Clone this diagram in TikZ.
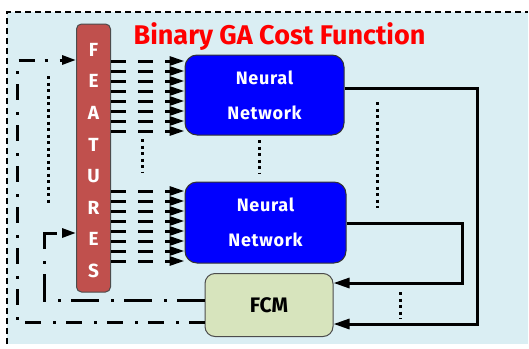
\documentclass[tikz,border=0pt]{standalone}
\usepackage{fontspec}
\setmainfont{Fira Sans}
\usetikzlibrary{arrows.meta}
\definecolor{bgblue}{HTML}{DAEEF3}
\definecolor{featred}{HTML}{C0504D}
\definecolor{nnblue}{HTML}{0000FF}
\definecolor{fcmgreen}{HTML}{D7E4BD}
\definecolor{titlered}{HTML}{FF0000}
\tikzset{
  featbar/.style={draw=black!70, line width=1pt, fill=featred, rounded corners=5pt, minimum width=34pt, minimum height=268pt, inner sep=0pt},
  nnbox/.style={draw=black!80, line width=1pt, fill=nnblue, rounded corners=12pt, text=white, font=\bfseries\fontsize{18}{35}\selectfont\addfontfeature{LetterSpace=4}, align=center, inner sep=0pt},
  fcmbox/.style={draw=black!70, line width=1pt, fill=fcmgreen, rounded corners=10pt, font=\bfseries\fontsize{21}{22}\selectfont, minimum width=128pt, minimum height=63pt, inner sep=0pt},
  featarrow/.style={line width=3pt, dash pattern=on 15pt off 12pt, -{Triangle[length=15pt,width=9pt]}},
  outarrow/.style={line width=3pt, -{Triangle[length=16pt,width=10pt]}},
  ellipsis/.style={line width=3pt, dash pattern=on 3pt off 3.5pt},
  fbinner/.style={line width=3pt, dash pattern=on 28pt off 10pt on 3pt off 12pt, -{Triangle[length=14pt,width=9pt]}},
  fbouter/.style={line width=3pt, dash pattern=on 16pt off 10pt on 3pt off 12pt, -{Triangle[length=14pt,width=9pt]}},
}
\begin{document}
\begin{tikzpicture}[x=1pt,y=-1pt]
\useasboundingbox (0,0) rectangle (529,348);
\fill[bgblue] (7,12) rectangle (528,344);
\draw[line width=1.5pt, dash pattern=on 6pt off 4pt] (7,344) -- (7,12) -- (528,12);

\node[font=\bfseries\fontsize{27}{29}\selectfont, text=titlered] (title) at (279.5,37) {Binary GA Cost Function};

\node[featbar] (feat) at (93.5,158) {};
\node[text=white, font=\bfseries\fontsize{19}{31.6}\selectfont, align=center, inner sep=0pt] (featlbl) at (93.5,160.5) {F\\E\\A\\T\\U\\R\\E\\S};

\node[nnbox, minimum width=159pt, minimum height=80pt] (nn1) at (264.5,95) {Neural\\Network};
\node[nnbox, minimum width=161pt, minimum height=81pt] (nn2) at (265.5,222.5) {Neural\\Network};
\node[fcmbox] (fcm) at (269,305) {FCM};

\foreach \i in {0,...,7}{
  \draw[featarrow] (feat.east |- 0,{61+10*\i}) -- (nn1.west |- 0,{61+10*\i});
  \draw[featarrow] (feat.east |- 0,{191+10*\i}) -- (nn2.west |- 0,{191+10*\i});
}

\coordinate (r1a) at (477,88);
\coordinate (r1b) at (477,324);
\draw[outarrow] (nn1.east |- r1a) -- (r1a) -- (r1b) -- (fcm.east |- r1b);
\coordinate (r2a) at (462,223);
\coordinate (r2b) at (462,283);
\draw[outarrow] (nn2.east |- r2a) -- (r2a) -- (r2b) -- (fcm.east |- r2b);

\coordinate (l1a) at (44,300);
\coordinate (l1b) at (44,233);
\draw[fbinner] (fcm.west |- l1a) -- (l1a) -- (l1b) -- (feat.west |- l1b);
\coordinate (l2a) at (17,322);
\coordinate (l2b) at (17,60);
\draw[fbouter] (fcm.west |- l2a) -- (l2a) -- (l2b) -- (feat.west |- l2b);

\coordinate (d1a) at (142,139); \coordinate (d1b) at (142,173);
\coordinate (d2a) at (259,140); \coordinate (d2b) at (259,174);
\coordinate (d3a) at (377,102); \coordinate (d3b) at (377,208);
\coordinate (d4a) at (400,292); \coordinate (d4b) at (400,319);
\coordinate (d5a) at (48,76);   \coordinate (d5b) at (48,205);
\draw[ellipsis] (d1a) -- (d1b);
\draw[ellipsis] (d2a) -- (d2b);
\draw[ellipsis] (d3a) -- (d3b);
\draw[ellipsis] (d4a) -- (d4b);
\draw[ellipsis] (d5a) -- (d5b);
\end{tikzpicture}
\end{document}
